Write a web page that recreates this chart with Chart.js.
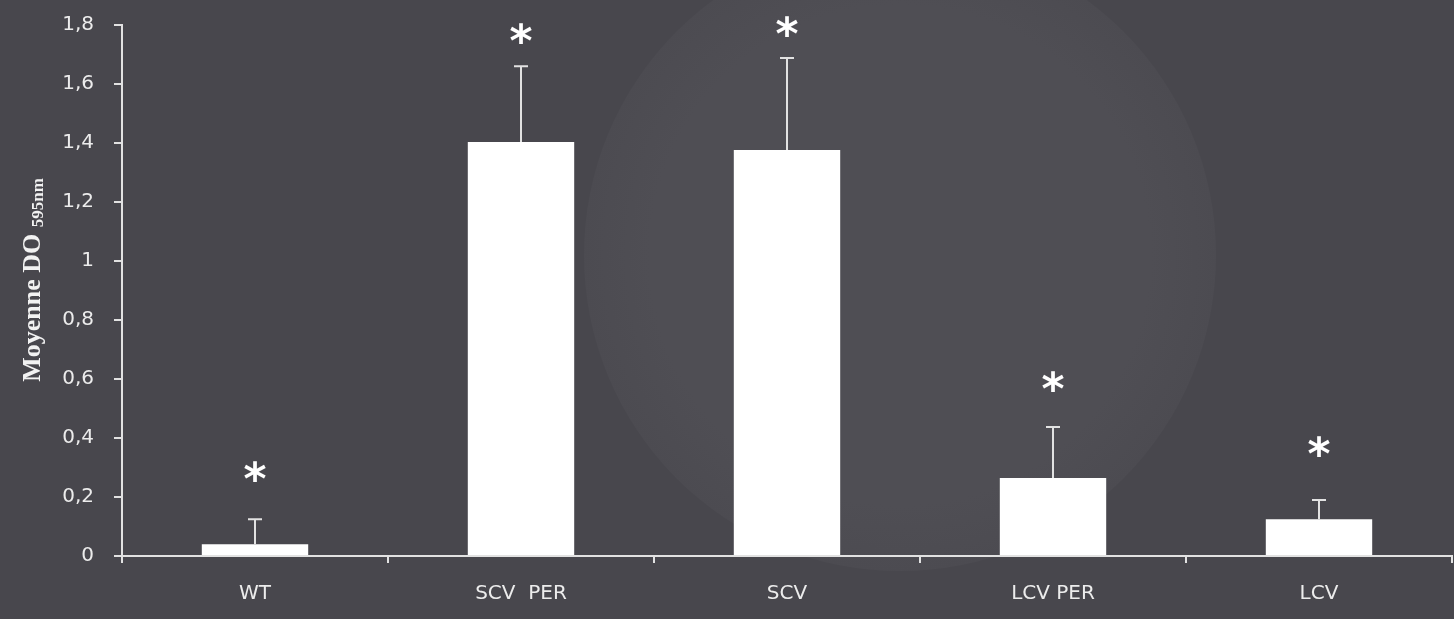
<!DOCTYPE html>
<html>
<head>
<meta charset="utf-8">
<script src="https://cdn.jsdelivr.net/npm/chart.js@4"></script>
<style>
    html, body { margin: 0; padding: 0; background: #48474d; }
    #wrap { width: 1454px; height: 619px; position: relative; }
</style>
</head>
<body>
<div id="wrap"><canvas id="chart"></canvas></div>
<script>
// valeurs
const categories = ['WT', 'SCV  PER', 'SCV', 'LCV PER', 'LCV'];
const means = [0.04, 1.403, 1.376, 0.264, 0.125];
const errTop = [0.125, 1.66, 1.688, 0.437, 0.19];
const starAt = [0.275, 1.76, 1.785, 0.58, 0.36];
const yTicks = [0, 0.2, 0.4, 0.6, 0.8, 1, 1.2, 1.4, 1.6, 1.8];

const LINE = '#e2e2e2';

// fond sombre + disque plus clair
const backdrop = {
    id: 'backdrop',
    beforeDraw(chart) {
        const ctx = chart.ctx;
        ctx.save();
        ctx.fillStyle = '#48474d';
        ctx.fillRect(0, 0, chart.width, chart.height);
        const g = ctx.createRadialGradient(900, 255, 250, 900, 255, 318);
        g.addColorStop(0, '#4f4e54');
        g.addColorStop(1, '#4c4b51');
        ctx.fillStyle = g;
        ctx.beginPath();
        ctx.arc(900, 255, 316, 0, Math.PI * 2);
        ctx.fill();
        ctx.restore();
    },
};

// barres d'erreur (haut seulement) et astérisques
const errorBars = {
    id: 'errorBars',
    afterDatasetsDraw(chart) {
        const ctx = chart.ctx;
        const meta = chart.getDatasetMeta(0);
        const y = chart.scales.y;
        ctx.save();
        ctx.strokeStyle = LINE;
        ctx.lineWidth = 2;
        meta.data.forEach((bar, i) => {
            const top = y.getPixelForValue(errTop[i]);
            ctx.beginPath();
            ctx.moveTo(bar.x, bar.y);
            ctx.lineTo(bar.x, top);
            ctx.moveTo(bar.x - 7, top);
            ctx.lineTo(bar.x + 7, top);
            ctx.stroke();
            ctx.fillStyle = '#ffffff';
            ctx.font = 'bold 44px "DejaVu Sans"';
            ctx.textAlign = 'center';
            ctx.textBaseline = 'middle';
            ctx.fillText('*', bar.x, y.getPixelForValue(starAt[i]) + 8);
        });
        ctx.restore();
    },
};

// titre de l'axe Y avec indice
const yTitle = {
    id: 'yTitle',
    afterDraw(chart) {
        const ctx = chart.ctx;
        ctx.save();
        ctx.translate(40, 280);
        ctx.rotate(-Math.PI / 2);
        ctx.fillStyle = '#f2f2f2';
        ctx.textBaseline = 'alphabetic';
        const main = 'Moyenne DO ';
        const sub = '595nm';
        ctx.font = 'bold 26px "Liberation Serif"';
        const w1 = ctx.measureText(main).width;
        ctx.font = 'bold 17px "Liberation Serif"';
        const w2 = ctx.measureText(sub).width;
        const x0 = -(w1 + w2) / 2;
        ctx.font = 'bold 26px "Liberation Serif"';
        ctx.fillText(main, x0, 0);
        ctx.font = 'bold 17px "Liberation Serif"';
        ctx.fillText(sub, x0 + w1, 3);
        ctx.restore();
    },
};

const tickFont = { family: '"DejaVu Sans"', size: 20 };

new Chart(document.getElementById('chart'), {
    type: 'bar',
    data: {
        labels: categories,
        datasets: [{
            data: means,
            backgroundColor: '#ffffff',
            borderWidth: 0,
            barPercentage: 0.4,
            categoryPercentage: 1,
        }],
    },
    options: {
        responsive: true,
        maintainAspectRatio: false,
        animation: false,
        layout: { padding: { top: 25, right: 2, left: 0, bottom: 0 } },
        plugins: {
            legend: { display: false },
            tooltip: { enabled: false },
        },
        scales: {
            x: {
                offset: true,
                grid: {
                    offset: true,
                    drawOnChartArea: false,
                    drawTicks: true,
                    tickLength: 7,
                    color: LINE,
                    lineWidth: 2,
                },
                border: { color: LINE, width: 2 },
                ticks: {
                    color: '#ececec',
                    font: tickFont,
                    padding: 19,
                },
                afterFit(scale) { scale.height = 63; },
            },
            y: {
                min: 0,
                max: 1.8,
                afterBuildTicks(scale) { scale.ticks = yTicks.map(v => ({ value: v })); },
                grid: {
                    drawOnChartArea: false,
                    drawTicks: true,
                    tickLength: 8,
                    color: LINE,
                    lineWidth: 2,
                },
                border: { color: LINE, width: 2 },
                ticks: {
                    color: '#ececec',
                    font: tickFont,
                    padding: 20,
                    callback: v => String(v).replace('.', ','),
                },
                afterFit(scale) {
                    scale.width = 122;
                    scale.paddingTop = 0;
                    scale.paddingBottom = 0;
                },
            },
        },
    },
    plugins: [backdrop, errorBars, yTitle],
});
</script>
</body>
</html>
